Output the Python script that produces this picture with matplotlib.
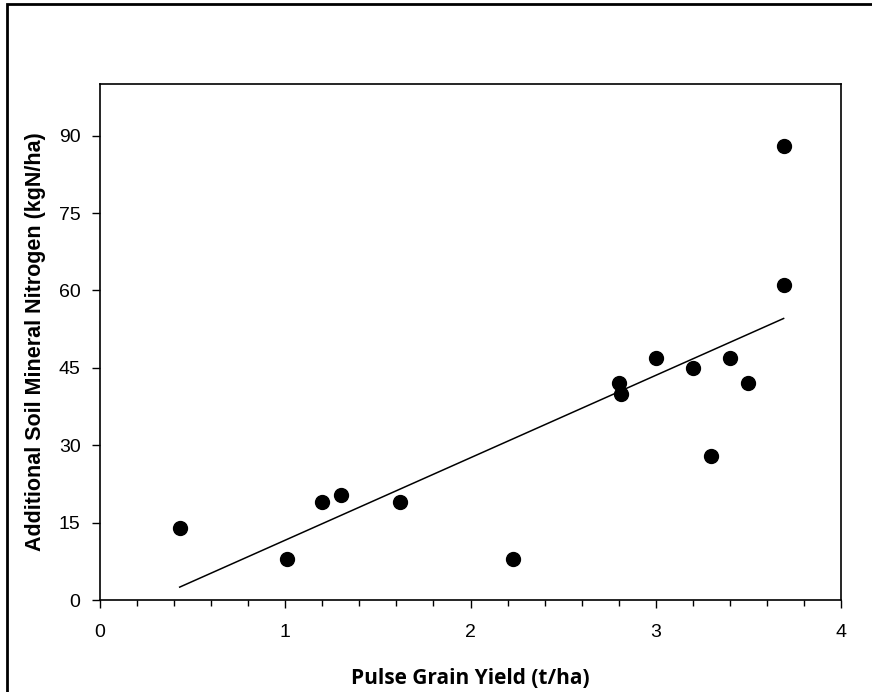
import numpy as np
import matplotlib.pyplot as plt
from matplotlib.patches import Rectangle
from matplotlib.ticker import MultipleLocator

# Datos
grain_yield = [0.43, 1.01, 1.20, 1.30, 1.62, 2.23, 2.80, 2.81, 3.00, 3.20, 3.30, 3.40, 3.50, 3.69, 3.69]
soil_n = [14, 8, 19, 20.3, 19, 8, 42, 40, 47, 45, 28, 47, 42, 88, 61]

x_ticks = [0, 1, 2, 3, 4]
y_ticks = [0, 15, 30, 45, 60, 75, 90]

fig = plt.figure(figsize=(8.72, 6.92), dpi=100)
ax = fig.add_axes([0.1147, 0.1329, 0.8498, 0.7457])

# Puntos y recta de regresion
ax.plot(grain_yield, soil_n, "o", color="black", markersize=10)
slope, intercept = np.polyfit(grain_yield, soil_n, 1)
xs = np.array([min(grain_yield), max(grain_yield)])
ax.plot(xs, slope * xs + intercept, color="black", linewidth=1.1)

ax.set_xlim(0, 4)
ax.set_ylim(0, 100)
ax.set_xticks(x_ticks)
ax.set_yticks(y_ticks)
ax.xaxis.set_minor_locator(MultipleLocator(0.2))
ax.tick_params(which="major", direction="out", length=6, width=1, labelsize=14, pad=8)
ax.tick_params(axis="x", which="major", pad=11)
ax.tick_params(which="minor", direction="out", length=4, width=1)
for lab in ax.get_xticklabels() + ax.get_yticklabels():
    lab.set_family("Liberation Sans")
for s in ax.spines.values():
    s.set_linewidth(1.2)

ax.set_xlabel("Pulse Grain Yield (t/ha)", family="Open Sans", fontweight="bold", fontsize=15, labelpad=20)
ax.set_ylabel("Additional Soil Mineral Nitrogen (kgN/ha)", family="Liberation Sans", fontweight="bold", fontsize=15.5, labelpad=9)

# Marco exterior de la figura
fig.patches.append(Rectangle((7 / 872, -0.1), 1.2, 1 - 4 / 692 + 0.1, transform=fig.transFigure,
                             fill=False, edgecolor="black", linewidth=2))

fig.savefig("out.png", dpi=100)
